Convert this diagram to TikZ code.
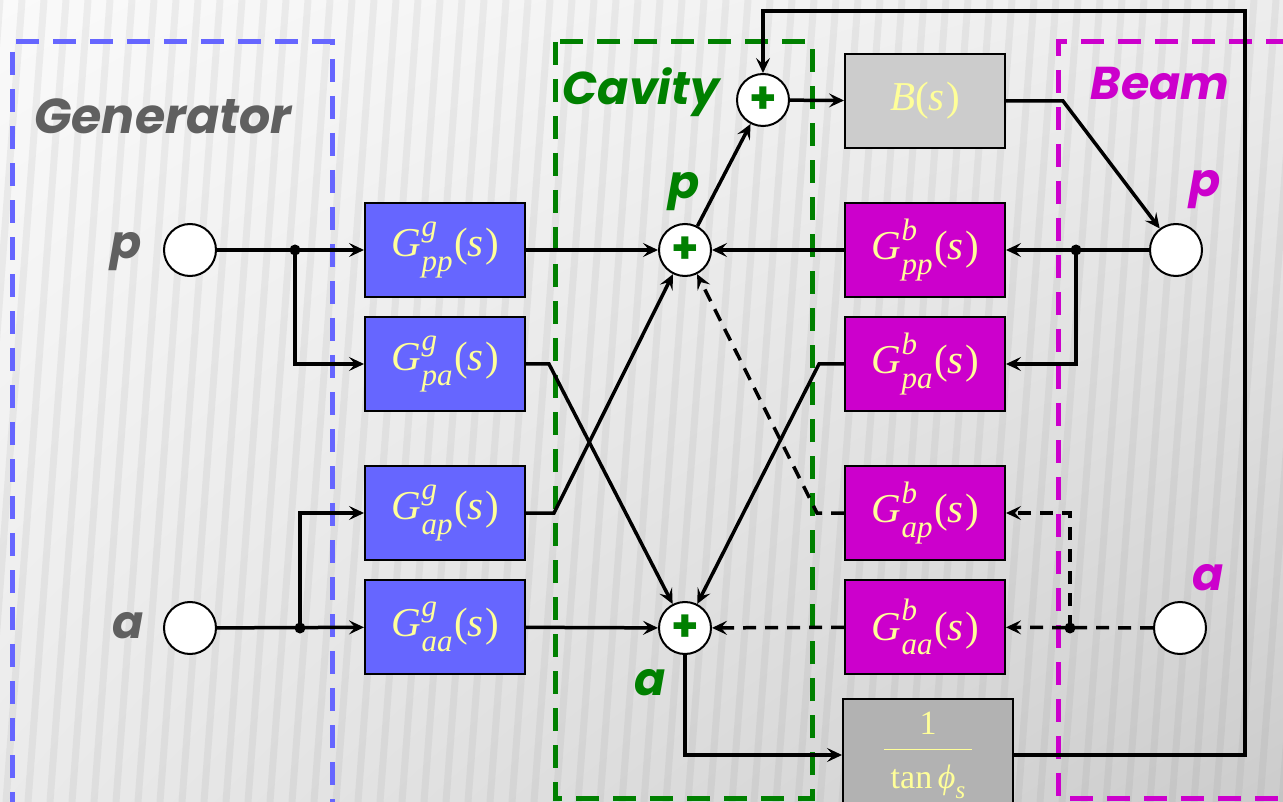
\documentclass[tikz,border=0pt]{standalone}
\usepackage{fontspec}
\setmainfont{Liberation Serif}
\newfontfamily\comic{Poppins}
\usetikzlibrary{arrows.meta,calc,shadings}
\definecolor{genblue}{HTML}{6666FF}
\definecolor{beammag}{HTML}{CC00CC}
\definecolor{cavgreen}{HTML}{008000}
\definecolor{txtyel}{HTML}{FFFF99}
\definecolor{lblgray}{HTML}{606060}
\newcommand\TFn[2]{\textit{G}\kern1pt\makebox[0pt][l]{\raisebox{0.48em}{\fontsize{31}{31}\selectfont\textit{#1}}}\raisebox{-0.36em}{\fontsize{31}{31}\selectfont\textit{#2}}\kern1.5pt(\textit{s}\kern1.5pt)}
\begin{document}
\begin{tikzpicture}[x=1pt,y=-1pt,
  tfbox/.style={draw=black,line width=2pt,minimum width=160pt,minimum height=94pt,inner sep=0pt,text=txtyel,font=\fontsize{41}{43}\selectfont},
  genbox/.style={tfbox,fill=genblue},
  beambox/.style={tfbox,fill=beammag},
  graybox/.style={tfbox,fill=black!20},
  port/.style={circle,draw=black,line width=2pt,fill=white,minimum size=52pt,inner sep=0pt},
  sumnode/.style={circle,draw=black,line width=2pt,fill=white,minimum size=52pt,inner sep=0pt,text=cavgreen,font=\comic\bfseries\fontsize{44}{44}\selectfont},
  conn/.style={line width=3.5pt,-{Stealth[length=15pt,width=14pt,inset=6pt]}},
  dashconn/.style={dash pattern=on 13pt off 9pt},
  frame/.style={line width=5pt,dash pattern=on 23pt off 14pt},
  lbl/.style={font=\comic\bfseries\itshape\fontsize{46}{46}\selectfont,inner sep=0pt},
  dot/.style={circle,fill=black,minimum size=11pt,inner sep=0pt}
]
\useasboundingbox (0,0) rectangle (1283,802);
\begin{scope}
\clip (0,0) rectangle (1283,802);
% background
\shade[upper left=black!2,upper right=black!7,lower left=black!8,lower right=black!20] (0,0) rectangle (1283,802);
\foreach \x in {-60,-38,...,1320} {
  \draw[black!50,opacity=0.10,line width=7pt] (\x+60,0) -- (\x,802);
}
% frames
\draw[frame,genblue] (12,1000) -- (12,42) -- (332,42) -- (332,1000);
\draw[frame,cavgreen] (555,42) rectangle (812,798);
\draw[frame,beammag] (1400,42) -- (1058,42) -- (1058,798) -- (1400,798);

% labels
\node[lbl,text=lblgray,font=\comic\bfseries\itshape\fontsize{49}{49}\selectfont] (lgen) at (163,116) {Generator};
\node[lbl,text=cavgreen] (lcav) at (641,92) {Cavity};
\node[lbl,text=beammag] (lbeam) at (1160,84) {Beam};
\node[lbl,text=lblgray] (lgp) at (126,252) {p};
\node[lbl,text=lblgray] (lga) at (128,626) {a};
\node[lbl,text=cavgreen] (lcp) at (684,192) {p};
\node[lbl,text=cavgreen] (lca) at (650,683) {a};
\node[lbl,text=beammag] (lbp) at (1205,190) {p};
\node[lbl,text=beammag] (lba) at (1208,578) {a};

% generator side
\node[port] (gp) at (190,250) {};
\node[port] (ga) at (190,628) {};
\node[genbox] (gpp) at (445,250) {\TFn{g}{pp}};
\node[genbox] (gpa) at (445,364) {\TFn{g}{pa}};
\node[genbox] (gap) at (445,513) {\TFn{g}{ap}};
\node[genbox] (gaa) at (445,627) {\TFn{g}{aa}};
\coordinate (j1) at (295,250);
\coordinate (j2) at (300,628);

% cavity
\node[sumnode] (sp) at (685,250) {+};
\node[sumnode] (sa) at (685,628) {+};
\node[sumnode] (st) at (763,100) {+};

% beam side
\node[graybox] (B) at (925,101) {\textit{B}(\textit{s}\kern1.5pt)};
\node[beambox] (bpp) at (925,250) {\TFn{b}{pp}};
\node[beambox] (bpa) at (925,364) {\TFn{b}{pa}};
\node[beambox] (bap) at (925,513) {\TFn{b}{ap}};
\node[beambox] (baa) at (925,627) {\TFn{b}{aa}};
\node[tfbox,fill=black!30,minimum width=170pt,minimum height=112pt,anchor=north,align=center,font=\fontsize{34}{36}\selectfont] (T) at (928,698) {1\\[-20pt]\rule{88pt}{1.2pt}\\[2pt]tan\,\textit{ϕ}\raisebox{-0.3em}{\fontsize{25}{25}\selectfont\textit{s}}};
\node[port] (bp) at (1176,250) {};
\node[port] (ba) at (1180,628) {};
\coordinate (j3) at (1076,250);
\coordinate (j4) at (1070,628);
\coordinate (fb) at (1245,11);

% connectors, generator
\draw[conn] (gp) -- (gpp);
\draw[conn] (j1) |- (gpa.west);
\draw[conn] (ga) -- (gaa);
\draw[conn] (j2) |- (gap.west);
\node[dot] (d1) at (j1) {};
\node[dot] (d2) at (j2) {};
\draw[conn] (gpp) -- (sp);
\draw[conn] (gaa) -- (sa);
\draw[conn] (gpa.east) -- ++(23,0) -- (sa);
\draw[conn] (gap.east) -- ++(28,0) -- (sp);

% connectors, beam
\draw[conn] (bpp) -- (sp);
\draw[conn,dashconn] (baa) -- (sa);
\draw[conn] (bpa.west) -- ++(-25,0) -- (sa);
\draw[conn,dashconn] (bap.west) -- ++(-27,0) -- (sp);
\draw[conn] (sp) -- (st);
\draw[conn] (st) -- (B);
\draw[conn] (B.east) -- ++(57,0) -- (bp);
\draw[conn] (bp) -- (bpp);
\draw[conn] (j3) |- (bpa.east);
\draw[conn,dashconn] (ba) -- (baa);
\draw[conn,dashconn] (j4) |- (bap.east);
\node[dot] (d3) at (j3) {};
\node[dot] (d4) at (j4) {};
\draw[conn] (sa) |- (T.west);
\draw[conn] (T.east) -| (fb) -| (st);
\end{scope}
\end{tikzpicture}
\end{document}
